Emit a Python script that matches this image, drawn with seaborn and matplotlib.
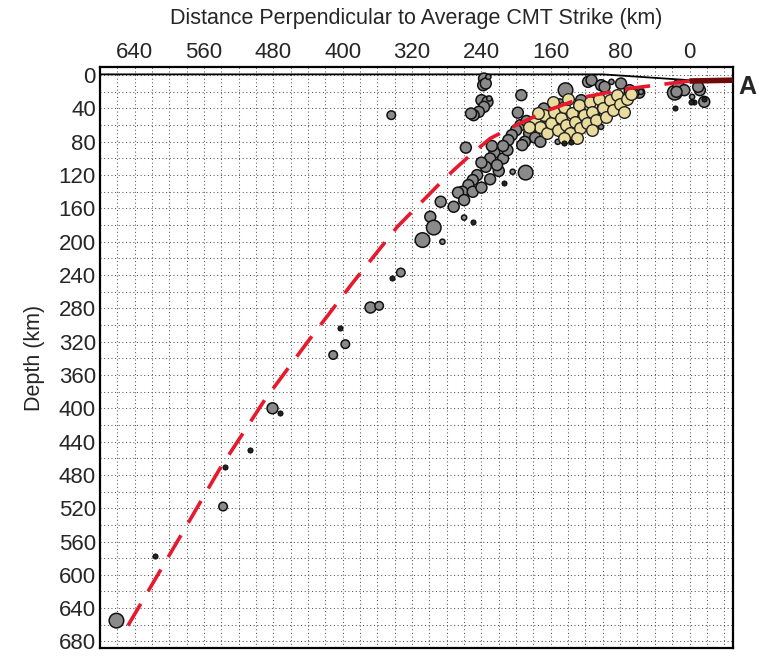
import numpy as np
import pandas as pd
import matplotlib
matplotlib.use("Agg")
import matplotlib.pyplot as plt
from matplotlib.ticker import MultipleLocator
import seaborn as sns

# ---------------- data (km) ----------------
x_ticks = [0, 80, 160, 240, 320, 400, 480, 560, 640]
y_ticks = list(range(0, 681, 40))

# slab-top model (distance, depth)
slab_x = [0, 70, 120, 163, 200, 230, 255, 272, 287, 337, 389, 441, 490, 542, 584, 650]
slab_depth = [7, 16, 26, 42, 60, 76, 98, 114, 129, 182, 250, 321, 390, 473, 548, 665]

# surface / topography line
topo_x = [680, 100, 0]
topo_depth = [-1, -1, 6]

# trench segment
trench_x = [0, -50]
trench_depth = [7, 6]

# gray hypocentres: distance, depth, size class (1 small .. 3 large)
gray_x = [237, 238, 235, 232, 240, 233, 237, 243, 249, 252, 231,
          194, 143,
          117, 113, 102, 98, 79, 69, 58, 56, 90,
          17, 13, 6, 15, -12, -10, -17, -3,
          195, 188, 185, 180, 178, 172, 190, 193, 200, 205, 209, 198, 170, 160, 150,
          140, 130, 120, 110, 100, 92, 85, 75, 65, 150, 125, 168, 102, 152,
          225, 230, 235, 240, 245, 250, 255, 258, 262, 267, 272, 260, 250, 240, 230,
          220, 215, 210, 228, 287, 299, 295, 308, 285, 260, 189, 204, 222, 215,
          333, 368, 358, 397, 411, 481, 538, 661, 344]
gray_depth = [4, 12, 10, 2, 30, 32, 38, 44, 48, 46, 28,
              24, 18,
              8, 6, 12, 14, 10, 18, 21, 20, 8,
              21, 12, 18, 20, 18, 14, 32, 26,
              60, 55, 70, 62, 75, 80, 80, 84, 66, 72, 78, 45, 50, 58, 65,
              72, 66, 58, 48, 40, 36, 30, 28, 22, 35, 30, 40, 62, 80,
              93, 100, 110, 105, 120, 126, 132, 87, 140, 141, 158, 150, 140, 135, 125,
              115, 100, 90, 85, 152, 170, 183, 198, 200, 171, 117, 116, 108, 85,
              237, 279, 277, 323, 336, 400, 518, 655, 48]
gray_size = [2, 2, 2, 1, 2, 2, 2, 2, 2, 2, 1,
             2, 3,
             2, 2, 2, 2, 2, 2, 2, 1, 1,
             3, 2, 2, 2, 2, 2, 2, 1,
             2, 2, 2, 2, 2, 2, 2, 2, 2, 2, 2, 2, 2, 2, 2,
             2, 2, 2, 2, 2, 2, 2, 2, 2, 2, 2, 2, 1, 1,
             2, 2, 2, 2, 2, 2, 2, 2, 2, 2, 2, 2, 2, 2, 2,
             2, 2, 2, 2, 2, 2, 3, 3, 1, 1, 3, 1, 2, 2,
             1.5, 2, 1.5, 1.5, 1.5, 2, 1.5, 3, 1.5]

# small dark events
dark_x = [17, -5, -2, -17, 137, 145, 214, 250, 343, 403, 472, 507, 616, 536]
dark_depth = [40, 32, 32, 28, 80, 81, 129, 176, 243, 304, 406, 450, 578, 471]

# CMT mechanisms
cmt_x = [178, 172, 168, 164, 160, 156, 152, 148, 145, 142, 138, 135, 132, 128, 126,
         122, 118, 115, 112, 108, 104, 100, 96, 92, 88, 84, 80, 76, 72, 68,
         185, 175, 158, 140, 130, 145, 112]
cmt_depth = [55, 62, 48, 70, 58, 44, 66, 52, 38, 60, 70, 46, 56, 36, 64,
             48, 58, 32, 44, 54, 28, 40, 50, 30, 42, 24, 34, 44, 28, 22,
             62, 45, 32, 28, 76, 75, 66]

# ---------------- figure ----------------
sns.set_style("white")
plt.rcParams['font.family'] = ['Liberation Sans', 'DejaVu Sans']

fig = plt.figure(figsize=(7.69, 6.62), dpi=100)
ax = fig.add_axes([0.130, 0.021, 0.823, 0.878])

ax.set_xlim(680, -50)
ax.set_ylim(688, -10)

ax.xaxis.set_minor_locator(MultipleLocator(20))
ax.yaxis.set_minor_locator(MultipleLocator(20))
ax.set_xticks(x_ticks)
ax.set_yticks(y_ticks)
ax.grid(which='both', linestyle=(0, (1, 2.5)), color='#555555', linewidth=0.75, zorder=0)
ax.set_axisbelow(True)

ax.xaxis.tick_top()
ax.xaxis.set_label_position('top')
ax.tick_params(axis='both', which='both', length=0, labelsize=16, pad=3)

for sp in ax.spines.values():
    sp.set_linewidth(1.6)
    sp.set_color('black')

ax.plot(topo_x, topo_depth, color='black', linewidth=1.3, zorder=2)

gray_df = pd.DataFrame({'x': gray_x, 'depth': gray_depth, 'size': gray_size})
sns.scatterplot(data=gray_df, x='x', y='depth', size='size', sizes=(14, 110),
                size_norm=(1, 3), color='#8a8a8a', edgecolor='#111111',
                linewidth=1.1, legend=False, ax=ax, zorder=3)

cmt_df = pd.DataFrame({'x': cmt_x, 'depth': cmt_depth})
sns.scatterplot(data=cmt_df, x='x', y='depth', s=70, color='#e9dc9c',
                edgecolor='#222222', linewidth=1.0, legend=False, ax=ax, zorder=4)

dark_df = pd.DataFrame({'x': dark_x, 'depth': dark_depth})
sns.scatterplot(data=dark_df, x='x', y='depth', s=14, color='#222222',
                edgecolor='#000000', linewidth=0.6, legend=False, ax=ax, zorder=4)

slab_df = pd.DataFrame({'x': slab_x, 'depth': slab_depth})
sns.lineplot(data=slab_df, x='x', y='depth', sort=False, estimator=None,
             color='#e8192c', linewidth=2.6, linestyle=(0, (7.0, 4.0)),
             ax=ax, zorder=5)

ax.plot(trench_x, trench_depth, color='#6e0a0a', linewidth=4.0, zorder=6,
        solid_capstyle='butt')

ax.set_xlabel('Distance Perpendicular to Average CMT Strike (km)', fontsize=15.5, labelpad=13)
ax.set_ylabel('Depth (km)', fontsize=15.5, labelpad=10)

fig.text(0.960, 0.868, 'A', fontsize=18, fontweight='bold', ha='left', va='center')

fig.savefig('out.png', dpi=100)
